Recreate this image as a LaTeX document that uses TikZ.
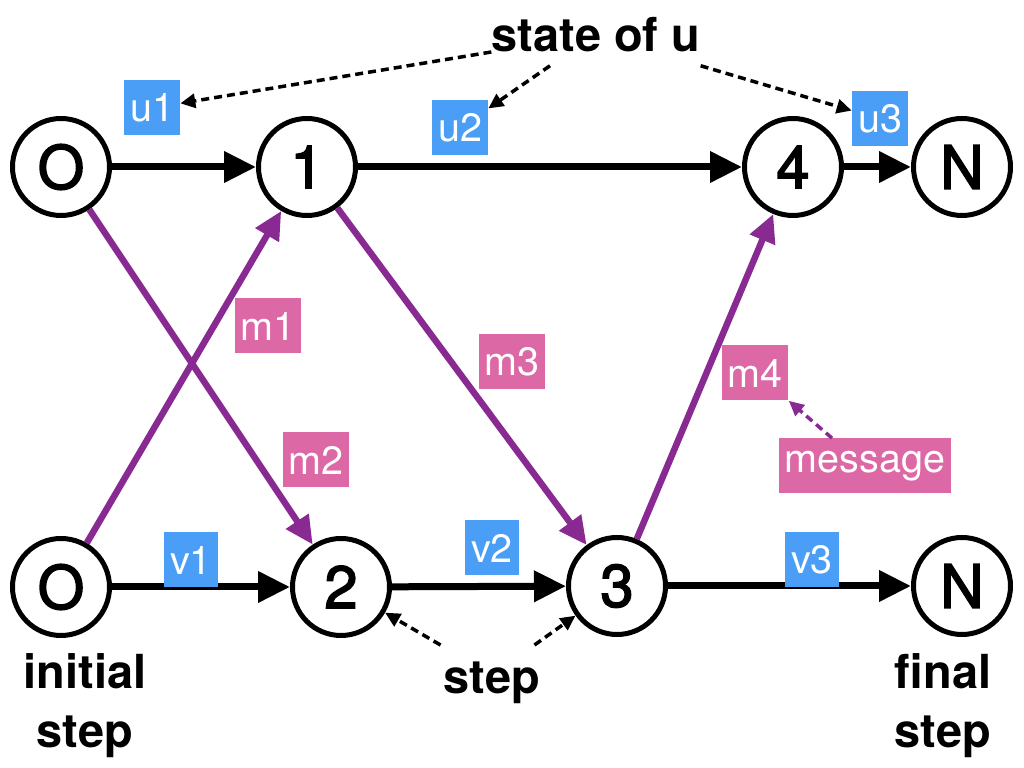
\documentclass[tikz,border=0pt]{standalone}
\usepackage{fontspec}
\setmainfont{TeX Gyre Heros}
\newfontfamily\digitfont{TeX Gyre Heros}[FakeBold=2.5]
\usetikzlibrary{arrows.meta,calc}

\definecolor{ublue}{RGB}{74,158,245}
\definecolor{mpink}{RGB}{221,104,166}
\definecolor{mpurple}{RGB}{136,42,146}

\tikzset{
  stepnode/.style={draw, circle, line width=1mm, minimum size=19.4mm, inner sep=0pt,
    font=\fontsize{34}{40}\digitfont},
  tagbox/.style={text=white, inner xsep=1.2mm, inner ysep=0pt, minimum height=11mm,
    font=\fontsize{22.5}{26}\selectfont},
  ubox/.style={tagbox, fill=ublue},
  mbox/.style={tagbox, fill=mpink},
  note/.style={inner sep=0pt, align=center, font=\fontsize{26.7}{33.6}\selectfont\bfseries},
  flow/.style={line width=1.4mm, -{Triangle[length=6.4mm,width=6mm]}},
  msgflow/.style={mpurple, line width=1.3mm, -{Triangle[length=5.6mm,width=5.2mm]}},
  pointer/.style={line width=0.7mm, dash pattern=on 1.6mm off 1mm, -{Triangle[length=3mm,width=2.8mm]}},
}

\begin{document}
\begin{tikzpicture}[x=0.2mm, y=-0.2mm]
\useasboundingbox (0,0) rectangle (1024,768);

% steps of u (top) and v (bottom)
\node[stepnode] (o1) at (61,167)  {O};
\node[stepnode] (s1) at (307,167) {1};
\node[stepnode] (s4) at (793,167) {4};
\node[stepnode] (n1) at (962,167) {N};

\node[stepnode] (o2) at (61,587)  {O};
\node[stepnode] (s2) at (341,587) {2};
\node[stepnode] (s3) at (617,586) {3};
\node[stepnode] (n2) at (962,586) {N};

\draw[flow] (o1) -- (s1);
\draw[flow] (s1) -- (s4);
\draw[flow] (s4) -- (n1);
\draw[flow] (o2) -- (s2);
\draw[flow] (s2) -- (s3);
\draw[flow] (s3) -- (n2);

% messages
\draw[msgflow] (o2) -- (s1);
\draw[msgflow] (o1) -- (s2);
\draw[msgflow] (s1) -- (s3);
\draw[msgflow] (s3) -- (s4);

\node[ubox] (lu1) at (152,108) {u1};
\node[ubox] (lu2) at (460,128) {u2};
\node[ubox] (lu3) at (880,119) {u3};
\node[ubox] (lv1) at (191,560) {v1};
\node[ubox] (lv2) at (492,548) {v2};
\node[ubox] (lv3) at (812,560) {v3};

\node[mbox] (lm1) at (268,326) {m1};
\node[mbox] (lm2) at (316,460) {m2};
\node[mbox] (lm3) at (512,362) {m3};
\node[mbox] (lm4) at (755,373) {m4};
\node[mbox] (message) at (865,466) {message};

\node[note, anchor=base]  (state) at (596,52)  {state of u};
\node[note, anchor=base]  (step)  at (492,694) {step};
\node[note, anchor=north] (init)  at (85,653)  {initial\\step};
\node[note, anchor=north] (final) at (943,653) {final\\step};

\draw[pointer] (state.base west) -- (lu1);
\draw[pointer] ($(state.south)+(-46,13)$) -- (lu2);
\draw[pointer] ($(state.south east)+(0,13)$) -- (lu3);
\draw[pointer] ($(step.north west)+(-3,-17)$) -- (s2);
\draw[pointer] ($(step.north east)+(-6,-17)$) -- (s3);
\draw[pointer, mpurple] ($(message.north)+(-33,0)$) -- (lm4.south east);
\end{tikzpicture}
\end{document}
